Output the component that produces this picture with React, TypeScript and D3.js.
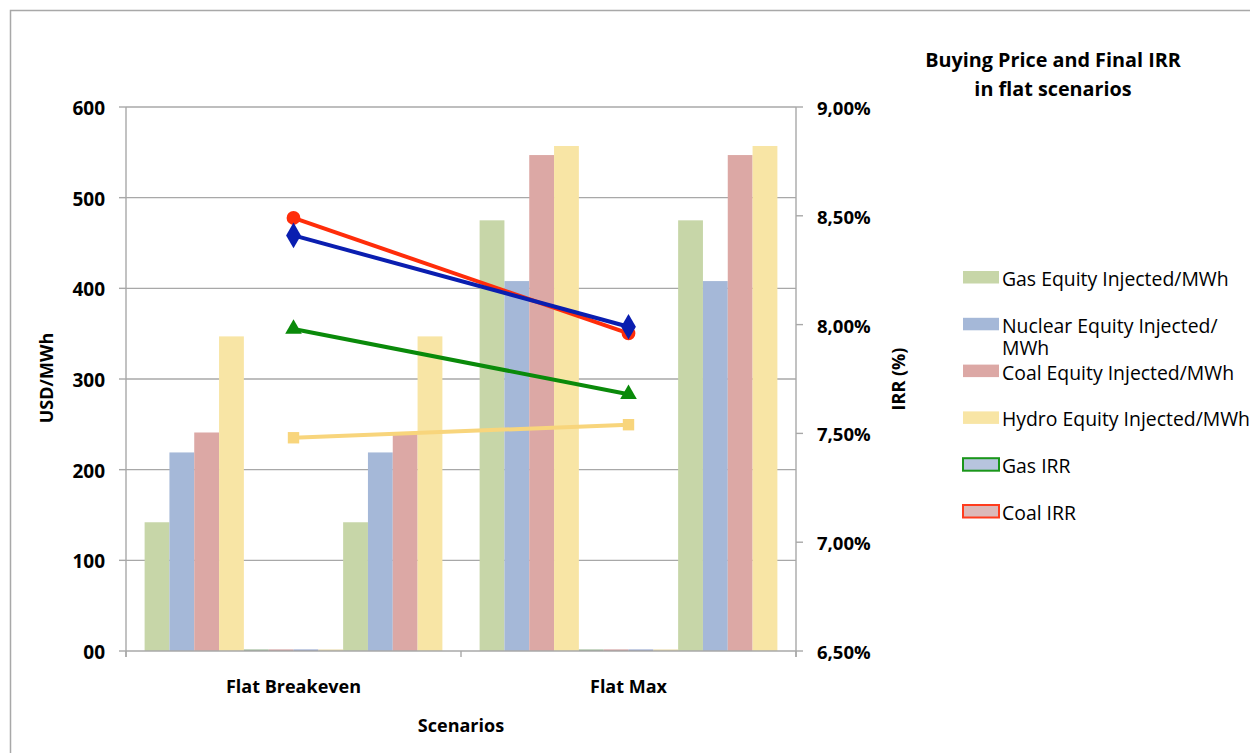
import React from "react"
import * as d3 from "d3"

// chart values
const categories = ["Flat Breakeven", "Flat Max"]
const gasEquity = [142, 475]
const nuclearEquity = [219, 408]
const coalEquity = [241, 547]
const hydroEquity = [347, 557]
// IRR in %
const gasIRR = [7.98, 7.68]
const coalIRR = [8.49, 7.96]
const nuclearIRR = [8.41, 7.99]
const hydroIRR = [7.48, 7.54]

const leftTicks = [0, 100, 200, 300, 400, 500, 600]
const leftTickLabels = ["00", "100", "200", "300", "400", "500", "600"]
const rightTicks = [6.5, 7.0, 7.5, 8.0, 8.5, 9.0]
const rightTickLabels = ["6,50%", "7,00%", "7,50%", "8,00%", "8,50%", "9,00%"]

const legendLabels = [
    ["Gas Equity Injected/MWh"],
    ["Nuclear Equity Injected/", "MWh"],
    ["Coal Equity Injected/MWh"],
    ["Hydro Equity Injected/MWh"],
    ["Gas IRR"],
    ["Coal IRR"],
]

const FONT = "'Open Sans', sans-serif"
const GRID = "#a8a8a8"

// bar slots per category: equity, IRR (as tiny columns), equity again
const slots = [
    { values: gasEquity, color: "#c7d6a8" },
    { values: nuclearEquity, color: "#a5b8d8" },
    { values: coalEquity, color: "#dca8a5" },
    { values: hydroEquity, color: "#f8e5a5" },
    { values: gasIRR.map((v) => v / 100), color: "#8fb08a" },
    { values: coalIRR.map((v) => v / 100), color: "#c99090" },
    { values: nuclearIRR.map((v) => v / 100), color: "#8a9bc8" },
    { values: hydroIRR.map((v) => v / 100), color: "#e6d6a0" },
    { values: gasEquity, color: "#c7d6a8" },
    { values: nuclearEquity, color: "#a5b8d8" },
    { values: coalEquity, color: "#dca8a5" },
    { values: hydroEquity, color: "#f8e5a5" },
]

const lines = [
    { values: coalIRR, color: "#ff2d0a", marker: "circle" },
    { values: nuclearIRR, color: "#0a1eb0", marker: "diamond" },
    { values: gasIRR, color: "#0a8a0a", marker: "triangle" },
    { values: hydroIRR, color: "#f8d57c", marker: "square" },
]

const legendSwatches = [
    { fill: "#c7d6a8", stroke: "none" },
    { fill: "#a5b8d8", stroke: "none" },
    { fill: "#dca8a5", stroke: "none" },
    { fill: "#f8e5a5", stroke: "none" },
    { fill: "#b7c4de", stroke: "#1a961a" },
    { fill: "#dcb9b9", stroke: "#ff3c1e" },
]

export default function App() {
    const left = 126
    const right = 796
    const top = 107
    const bottom = 651

    const x = d3.scaleBand<string>().domain(categories).range([left, right])
    const xi = d3
        .scaleBand<number>()
        .domain(slots.map((_, i) => i))
        .range([0, x.bandwidth()])
        .paddingOuter(0.75)
    const yL = d3.scaleLinear().domain([0, 600]).range([bottom, top])
    const yR = d3.scaleLinear().domain([6.5, 9.0]).range([bottom, top])

    const lineGen = d3
        .line<number>()
        .x((_, i) => (x(categories[i]) as number) + x.bandwidth() / 2)
        .y((d) => yR(d))

    const symbolFor = (m: string) => {
        if (m === "circle") return d3.symbol(d3.symbolCircle, 150)()
        if (m === "diamond") return d3.symbol(d3.symbolDiamond, 190)()
        if (m === "triangle") return d3.symbol(d3.symbolTriangle, 120)()
        return d3.symbol(d3.symbolSquare, 130)()
    }

    const catTicks = [left, (left + right) / 2, right]

    return (
        <svg
            width={1250}
            height={753}
            style={{ position: "absolute", left: 0, top: 0, background: "#fff" }}
            fontFamily={FONT}
        >
            <rect x={10.5} y={10.5} width={1260} height={760} fill="#fff" stroke={GRID} strokeWidth={1.5} />

            {/* gridlines */}
            {leftTicks.slice(1).map((t) => (
                <line key={t} x1={left} x2={right} y1={yL(t)} y2={yL(t)} stroke={GRID} strokeWidth={1.4} />
            ))}

            {/* bars */}
            {categories.map((c, ci) =>
                slots.map((s, si) => {
                    const h = bottom - yL(s.values[ci])
                    const hh = Math.max(h, 1.5)
                    return (
                        <rect
                            key={c + si}
                            x={(x(c) as number) + (xi(si) as number)}
                            y={bottom - hh}
                            width={xi.bandwidth()}
                            height={hh}
                            fill={s.color}
                        />
                    )
                })
            )}

            {/* axes */}
            <line x1={left} x2={right} y1={bottom} y2={bottom} stroke={GRID} strokeWidth={1.4} />
            <line x1={left} x2={left} y1={top} y2={bottom + 6} stroke={GRID} strokeWidth={1.4} />
            <line x1={right} x2={right} y1={top} y2={bottom + 6} stroke={GRID} strokeWidth={1.4} />
            {leftTicks.map((t, i) => (
                <g key={"l" + t}>
                    <line x1={left - 7} x2={left} y1={yL(t)} y2={yL(t)} stroke={GRID} strokeWidth={1.4} />
                    <text x={105} y={yL(t) + 8} textAnchor="end" fontSize={19} fontWeight="bold">
                        {leftTickLabels[i]}
                    </text>
                </g>
            ))}
            {rightTicks.map((t, i) => (
                <g key={"r" + t}>
                    <line x1={right} x2={right + 7} y1={yR(t)} y2={yR(t)} stroke={GRID} strokeWidth={1.4} />
                    <text x={817} y={yR(t) + 8} textAnchor="start" fontSize={18.5} fontWeight="bold">
                        {rightTickLabels[i]}
                    </text>
                </g>
            ))}
            {catTicks.map((cx) => (
                <line key={cx} x1={cx} x2={cx} y1={bottom} y2={bottom + 6} stroke={GRID} strokeWidth={1.4} />
            ))}
            {categories.map((c) => (
                <text
                    key={c}
                    x={(x(c) as number) + x.bandwidth() / 2}
                    y={693}
                    textAnchor="middle"
                    fontSize={18}
                    fontWeight="bold"
                >
                    {c}
                </text>
            ))}

            {/* axis titles */}
            <text x={461} y={732} textAnchor="middle" fontSize={18} fontWeight="bold">
                Scenarios
            </text>
            <text transform="translate(53,378) rotate(-90)" textAnchor="middle" fontSize={18} fontWeight="bold">
                USD/MWh
            </text>
            <text transform="translate(905,379) rotate(-90)" textAnchor="middle" fontSize={18} fontWeight="bold">
                IRR (%)
            </text>

            {/* IRR lines */}
            {lines.map((l, li) => (
                <g key={li}>
                    <path d={lineGen(l.values) as string} fill="none" stroke={l.color} strokeWidth={4} />
                    {l.values.map((v, i) => (
                        <path
                            key={i}
                            d={symbolFor(l.marker) as string}
                            transform={`translate(${(x(categories[i]) as number) + x.bandwidth() / 2},${yR(v)})`}
                            fill={l.color}
                        />
                    ))}
                </g>
            ))}

            {/* title */}
            <text x={1053} y={67} textAnchor="middle" fontSize={19.8} fontWeight="bold">
                Buying Price and Final IRR
            </text>
            <text x={1053} y={96} textAnchor="middle" fontSize={19.8} fontWeight="bold">
                in flat scenarios
            </text>

            {/* legend */}
            {legendLabels.map((lbl, i) => {
                const y0 = 271 + i * 46.8
                const sw = legendSwatches[i]
                return (
                    <g key={i}>
                        <rect
                            x={963}
                            y={y0}
                            width={36}
                            height={12.5}
                            fill={sw.fill}
                            stroke={sw.stroke}
                            strokeWidth={sw.stroke === "none" ? 0 : 2}
                        />
                        <text x={1002} y={y0 + 15} fontSize={19.4}>
                            {lbl.map((t, j) => (
                                <tspan key={j} x={1002} dy={j === 0 ? 0 : 22}>
                                    {t}
                                </tspan>
                            ))}
                        </text>
                    </g>
                )
            })}
        </svg>
    )
}
